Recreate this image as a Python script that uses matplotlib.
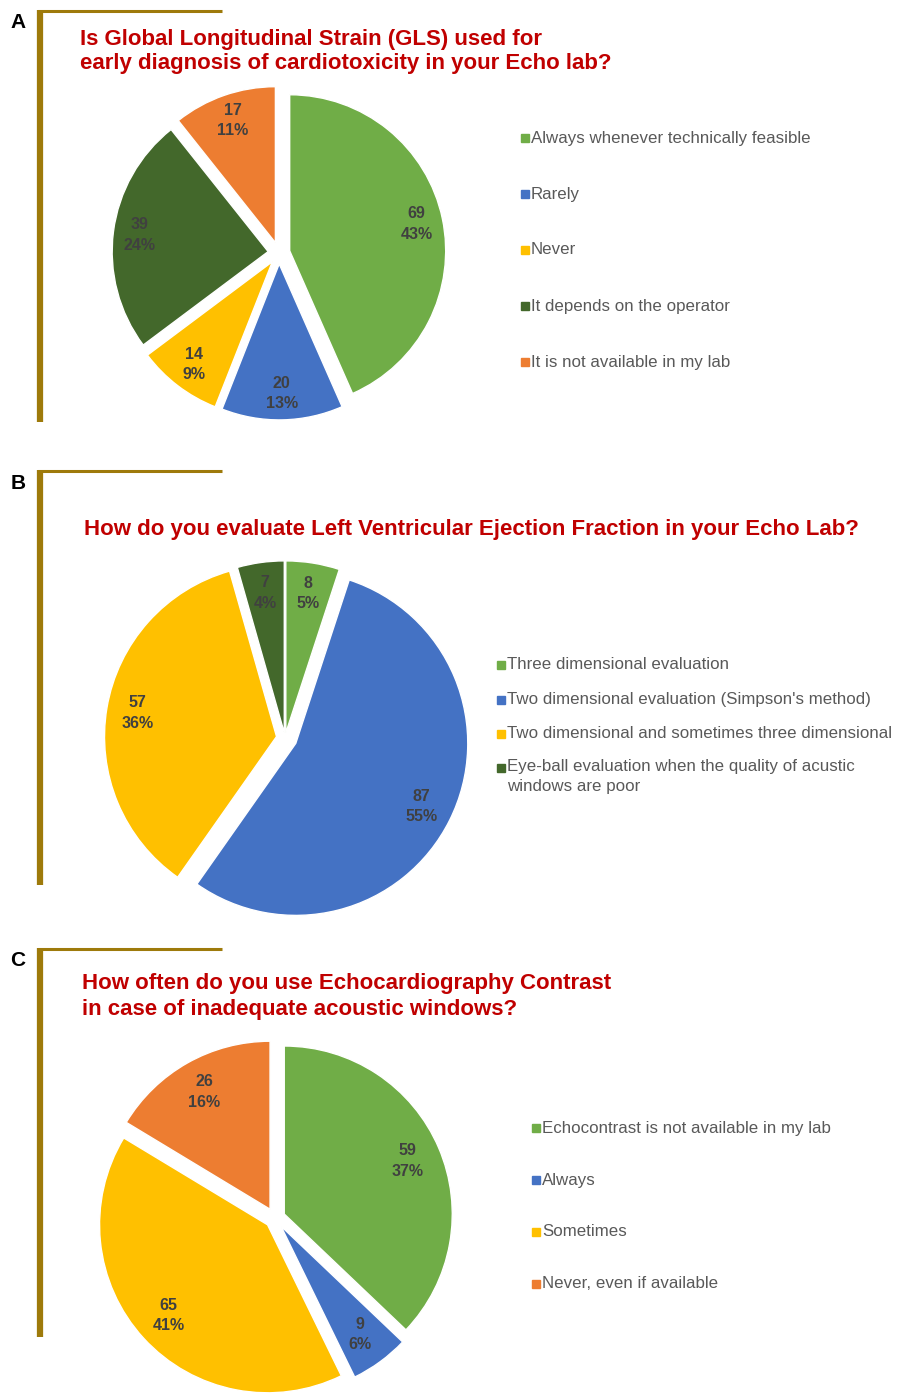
import matplotlib
matplotlib.use("Agg")
import numpy as np
import matplotlib.pyplot as plt
from matplotlib.lines import Line2D
from matplotlib.patches import Rectangle

plt.rcParams["font.family"] = ["Liberation Sans", "DejaVu Sans"]

W, H = 899, 1393

green = "#70AD47"
blue = "#4472C4"
yellow = "#FFC000"
dkgreen = "#43682B"
orange = "#ED7D31"
gold = "#9E7A0B"
title_red = "#C00000"

# panel A
a_labels = ["Always whenever technically feasible", "Rarely", "Never",
            "It depends on the operator", "It is not available in my lab"]
a_counts = [69, 20, 14, 39, 17]
a_pct = ["43%", "13%", "9%", "24%", "11%"]
a_colors = [green, blue, yellow, dkgreen, orange]

# panel B
b_labels = ["Three dimensional evaluation",
            "Two dimensional evaluation (Simpson's method)",
            "Two dimensional and sometimes three dimensional",
            "Eye-ball evaluation when the quality of acustic\nwindows are poor"]
b_counts = [8, 87, 57, 7]
b_pct = ["5%", "55%", "36%", "4%"]
b_colors = [green, blue, yellow, dkgreen]

# panel C
c_labels = ["Echocontrast is not available in my lab", "Always", "Sometimes",
            "Never, even if available"]
c_counts = [59, 9, 65, 26]
c_pct = ["37%", "6%", "41%", "16%"]
c_colors = [green, blue, yellow, orange]

fig = plt.figure(figsize=(W / 100, H / 100), dpi=100)


def fx(x):
    return x / W


def fy(y):
    return 1 - y / H


def bracket(letter, ytop, ybot):
    fig.add_artist(Line2D([fx(40), fx(40)], [fy(ytop), fy(ybot)], color=gold, lw=4.5,
                          solid_capstyle="butt"))
    fig.add_artist(Line2D([fx(38), fx(222)], [fy(ytop + 1), fy(ytop + 1)], color=gold, lw=2.2,
                          solid_capstyle="butt"))
    fig.text(fx(18), fy(ytop + 13), letter, fontsize=15, fontweight="bold", color="black",
             ha="center", va="center")


def pie(cx, cy, r, counts, pct, colors, explode, dist):
    s = r * 1.3
    ax = fig.add_axes([fx(cx - s), fy(cy + s), 2 * s / W, 2 * s / H])
    wedges, _ = ax.pie(counts, colors=colors, startangle=90, counterclock=False,
                       explode=explode, radius=1,
                       wedgeprops=dict(edgecolor="white", linewidth=1.0))
    tot = sum(counts)
    start = 90.0
    for n, p, e in zip(counts, pct, explode):
        ang = np.deg2rad(start - 360.0 * n / tot / 2)
        start -= 360.0 * n / tot
        d = dist + e
        ax.text(d * np.cos(ang), d * np.sin(ang), f"{n}\n{p}", ha="center", va="center",
                fontsize=11.5, fontweight="bold", color="#404040", linespacing=1.45)
    ax.set_xlim(-s / r, s / r)
    ax.set_ylim(-s / r, s / r)
    ax.set_aspect("equal")
    ax.axis("off")
    return wedges


def legend(x, ys, labels, colors, size):
    for y, lab, col in zip(ys, labels, colors):
        fig.add_artist(Rectangle((fx(x), fy(y + 4)), 8 / W, 8 / H, color=col,
                                 transform=fig.transFigure))
        if "\n" in lab:
            fig.text(fx(x + 10), fy(y - 9), lab, fontsize=size, color="#595959", ha="left",
                     va="top", linespacing=1.4)
        else:
            fig.text(fx(x + 10), fy(y), lab, fontsize=size, color="#595959", ha="left",
                     va="center")


# A
bracket("A", 10, 422)
fig.text(fx(80), fy(39), "Is Global Longitudinal Strain (GLS) used for", fontsize=16,
         fontweight="bold", color=title_red, ha="left", va="center")
fig.text(fx(80), fy(64), "early diagnosis of cardiotoxicity in your Echo lab?", fontsize=16,
         fontweight="bold", color=title_red, ha="left", va="center")
pie(279, 253, 156, a_counts, a_pct, a_colors, [0.07] * 5, 0.83)
legend(521, [138, 194, 250, 306, 362], a_labels, a_colors, 12.2)

# B
bracket("B", 470, 885)
fig.text(fx(471), fy(530), "How do you evaluate Left Ventricular Ejection Fraction in your Echo Lab?",
         fontsize=16, fontweight="bold", color=title_red, ha="center", va="center")
pie(285, 738, 172, b_counts, b_pct, b_colors, [0.03, 0.07, 0.05, 0.03], 0.82)
legend(497, [665, 700, 734, 768], b_labels, b_colors, 12.2)

# C
bracket("C", 948, 1337)
fig.text(fx(82), fy(984), "How often do you use Echocardiography Contrast", fontsize=16,
         fontweight="bold", color=title_red, ha="left", va="center")
fig.text(fx(82), fy(1010), "in case of inadequate acoustic windows?", fontsize=16,
         fontweight="bold", color=title_red, ha="left", va="center")
pie(275, 1218, 168, c_counts, c_pct, c_colors, [0.06] * 4, 0.8)
legend(532, [1128, 1180, 1232, 1284], c_labels, c_colors, 12.2)

fig.savefig("out.png", dpi=100, facecolor="white")
